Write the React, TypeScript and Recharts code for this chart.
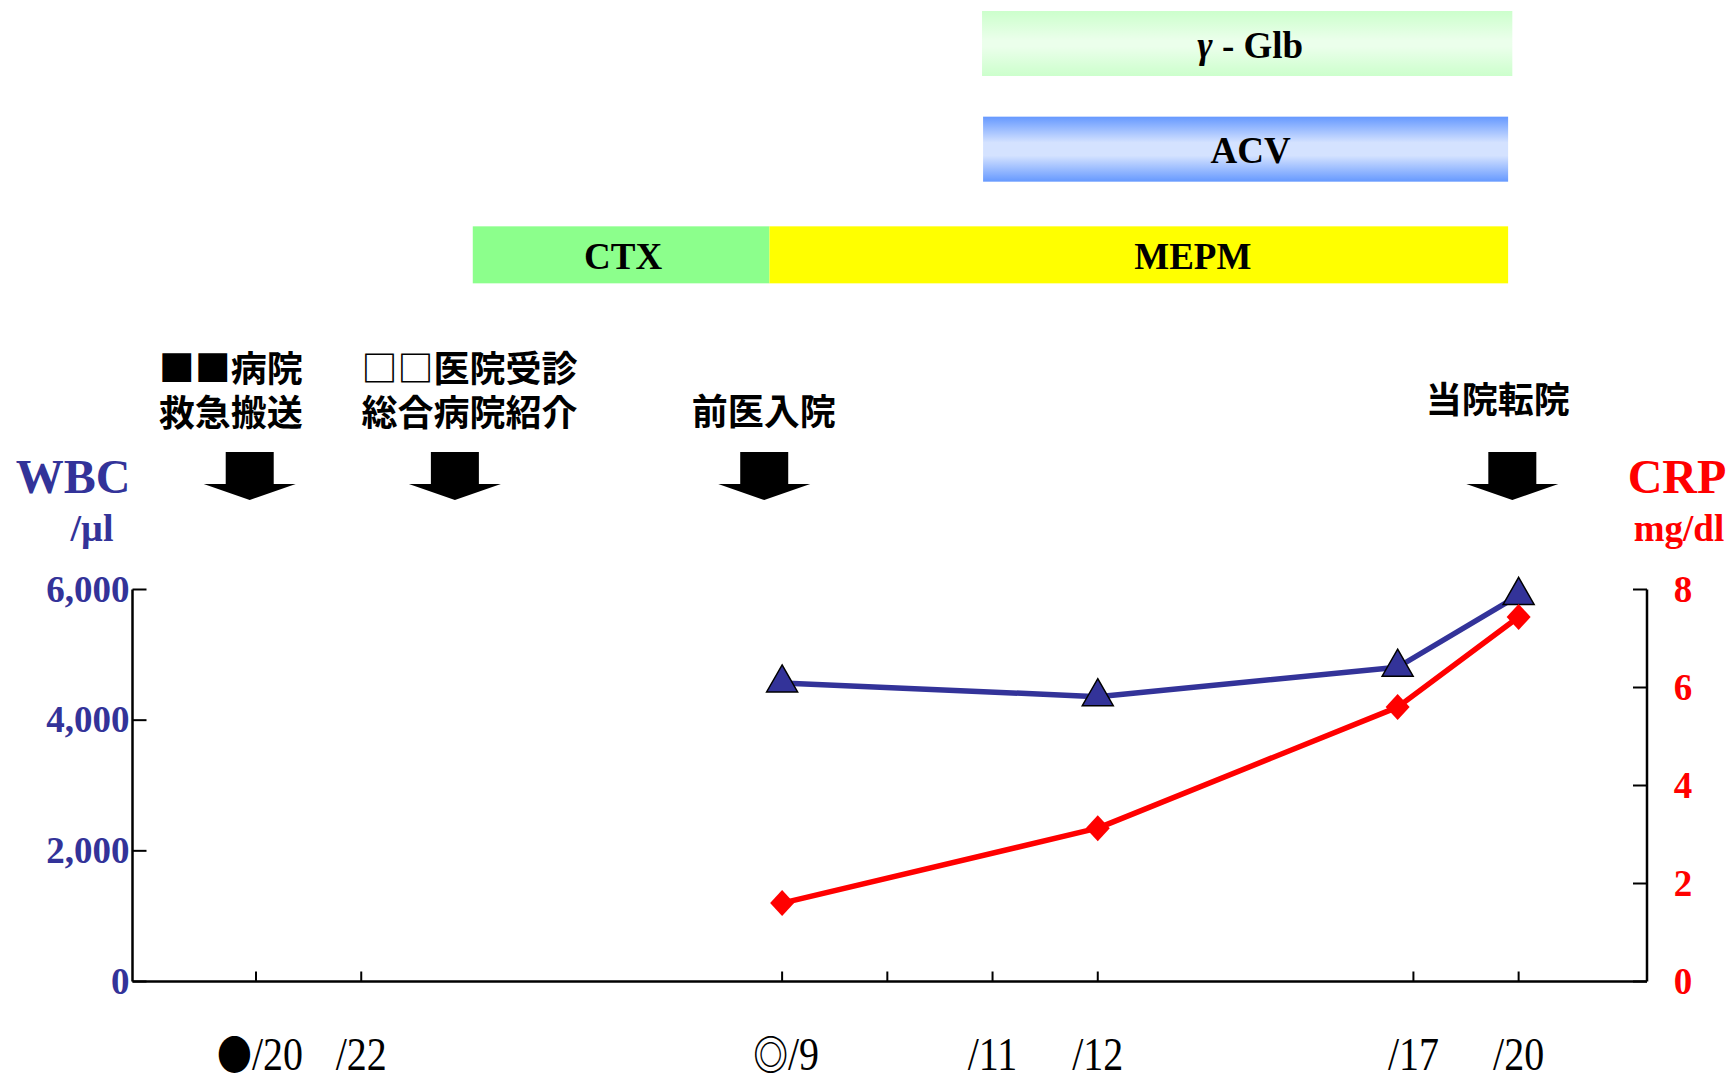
import React from 'react';
import { LineChart, Line, XAxis, YAxis, ReferenceLine, BarChart, Bar } from 'recharts';

// ---- data ----
const dateTicks = [0, 1, 5, 6, 7, 8, 11, 12];
const dateTickLabels = ['●/20', '/22', '◎/9', '', '/11', '/12', '/17', '/20'];
const sampleX = [5, 8, 10.85, 12];
const wbcValues = [4570, 4360, 4810, 5910];
const crpValues = [1.6, 3.13, 5.6, 7.44];
const wbcTicks = [0, 2000, 4000, 6000];
const crpTicks = [0, 2, 4, 6, 8];
const xDomain: [number, number] = [-1.174, 13.22];

const treatmentNames = ['γ - Glb', 'ACV', 'CTX', 'MEPM'];
const treatmentStart = [6.9, 6.91, 2.06, 4.88];
const treatmentEnd = [11.94, 11.9, 4.88, 11.9];
const treatmentRow = [0, 1, 2, 2];

const eventX = [-0.06, 1.89, 4.83, 11.94];
const eventLines = [['■■病院', '救急搬送'], ['□□医院受診', '総合病院紹介'], ['前医入院'], ['当院転院']];

// ---- styles ----
const BLUE = '#333399';
const RED = '#ff0000';
const SERIF = "'Liberation Serif', 'Times New Roman', serif";
const CJK = "'Noto Sans CJK JP', sans-serif";
const treatmentFill = ['url(#gGlb)', 'url(#gAcv)', '#8cff8c', '#ffff00'];
const treatmentLabelDx = [3, 5, 2, 54];
const rowThickness = [65, 65, 57];
const eventTextDx = [-19, 14.5, -0.5, -14.5];
const eventTextBottom = [-163.5, -163.5, -164.8, -177];

const data = sampleX.map((x, i) => ({ x, wbc: wbcValues[i], crp: crpValues[i] }));

const rows = [0, 1, 2].map((r) => {
  const ids = treatmentRow
    .map((row, i) => (row === r ? i : -1))
    .filter((i) => i >= 0)
    .sort((a, b) => treatmentStart[a] - treatmentStart[b]);
  const first = ids[0];
  const second = ids.length > 1 ? ids[1] : -1;
  return {
    row: r,
    offset: treatmentStart[first],
    seg1: treatmentEnd[first] - treatmentStart[first],
    seg2: second >= 0 ? treatmentEnd[second] - treatmentStart[second] : 0,
    id1: first,
    id2: second,
  };
});

const EmptyShape = () => <g />;

const SegShape = (p: any) => {
  const id = p.payload[p.which];
  if (id == null || id < 0 || !(p.width > 0)) return <g />;
  const cy = p.y + p.height / 2;
  const h = rowThickness[p.payload.row];
  const tx = p.x + p.width / 2 + treatmentLabelDx[id];
  const name = treatmentNames[id];
  return (
    <g>
      <rect x={p.x} y={cy - h / 2} width={p.width} height={h} fill={treatmentFill[id]} />
      <text x={tx} y={cy + 14} textAnchor="middle" fontFamily={SERIF} fontWeight={700} fontSize={37} fill="#000">
        {name.startsWith('γ') ? (
          <>
            <tspan fontStyle="italic">γ</tspan>
            {name.slice(1)}
          </>
        ) : (
          name
        )}
      </text>
    </g>
  );
};

const DateTick = (p: any) => {
  const { x, y, payload } = p;
  const idx = dateTicks.indexOf(payload.value);
  const label = idx >= 0 ? dateTickLabels[idx] : '';
  const sym = label.startsWith('●') || label.startsWith('◎') ? label[0] : '';
  const rest = sym ? label.slice(1) : label;
  return (
    <g>
      <line x1={x} x2={x} y1={y - 10} y2={y} stroke="#000" strokeWidth={2} />
      <text
        transform={`translate(${x + (sym ? 4 : 0)},${y + 88}) scale(0.85,1)`}
        textAnchor="middle"
        fontFamily={SERIF}
        fontSize={47}
        fill="#000"
      >
        {sym ? (
          <tspan fontFamily={CJK} fontWeight={700} fontSize={41}>
            {sym}
          </tspan>
        ) : null}
        {rest}
      </text>
    </g>
  );
};

const WbcTick = (p: any) => {
  const { x, y, payload } = p;
  return (
    <g>
      <line x1={x} x2={x + 14} y1={y} y2={y} stroke="#000" strokeWidth={2} />
      <text x={x - 3} y={y + 12} textAnchor="end" fontFamily={SERIF} fontWeight={700} fontSize={37} fill={BLUE}>
        {Number(payload.value).toLocaleString('en-US')}
      </text>
    </g>
  );
};

const CrpTick = (p: any) => {
  const { x, y, payload } = p;
  return (
    <g>
      <line x1={x - 14} x2={x} y1={y} y2={y} stroke="#000" strokeWidth={2} />
      <text x={x + 36} y={y + 12} textAnchor="middle" fontFamily={SERIF} fontWeight={700} fontSize={37} fill={RED}>
        {payload.value}
      </text>
    </g>
  );
};

const WbcTitle = () => (
  <g>
    <text x={73} y={493} textAnchor="middle" fontFamily={SERIF} fontWeight={700} fontSize={48} fill={BLUE}>
      WBC
    </text>
    <text x={92} y={541} textAnchor="middle" fontFamily={SERIF} fontWeight={700} fontSize={38} fill={BLUE}>
      /µl
    </text>
  </g>
);

const CrpTitle = () => (
  <g>
    <text x={1677} y={493} textAnchor="middle" fontFamily={SERIF} fontWeight={700} fontSize={48} fill={RED}>
      CRP
    </text>
    <text x={1679} y={541} textAnchor="middle" fontFamily={SERIF} fontWeight={700} fontSize={37} fill={RED}>
      mg/dl
    </text>
  </g>
);

const EventMarker = (p: any) => {
  const { x1, y1, y2, idx } = p;
  const top = Math.min(y1, y2);
  const cx = x1;
  const shaftTop = top - 137.5;
  const headTop = top - 105.5;
  const tip = top - 89.5;
  const d = `M${cx - 24},${shaftTop} H${cx + 24} V${headTop} H${cx + 46} L${cx},${tip} L${cx - 46},${headTop} H${cx - 24} Z`;
  const lines = eventLines[idx];
  const baseY = top + eventTextBottom[idx];
  const tx = cx + eventTextDx[idx];
  const firstY = baseY - (lines.length - 1) * 44;
  return (
    <g>
      <path d={d} fill="#000" />
      <text
        x={tx}
        y={firstY}
        textAnchor="middle"
        fontFamily={CJK}
        fontWeight={700}
        fontSize={36}
        fill="#000"
      >
        {lines.map((t, j) => (
          <tspan key={j} x={tx} dy={j === 0 ? 0 : 44}>
            {t}
          </tspan>
        ))}
      </text>
    </g>
  );
};

const triangleDot = (p: any) => {
  const { cx, cy, index } = p;
  if (cx == null || cy == null) return <g key={`t${index}`} />;
  const h = 27;
  const w = 31;
  const d = `M${cx},${cy - (2 * h) / 3} L${cx + w / 2},${cy + h / 3} L${cx - w / 2},${cy + h / 3} Z`;
  return <path key={`t${index}`} d={d} fill={BLUE} stroke="#000" strokeWidth={1.5} />;
};

const diamondDot = (p: any) => {
  const { cx, cy, index } = p;
  if (cx == null || cy == null) return <g key={`d${index}`} />;
  const w = 24;
  const h = 26;
  const d = `M${cx},${cy - h / 2} L${cx + w / 2},${cy} L${cx},${cy + h / 2} L${cx - w / 2},${cy} Z`;
  return <path key={`d${index}`} d={d} fill={RED} />;
};

export default function App() {
  return (
    <div
      style={{
        position: 'absolute',
        left: 0,
        top: 0,
        width: 1731,
        height: 1080,
        overflow: 'hidden',
        background: '#fff',
      }}
    >
      <div style={{ position: 'absolute', left: 0, top: -9 }}>
        <BarChart
          width={1731}
          height={317}
          layout="vertical"
          data={rows}
          margin={{ top: 0, right: 84, bottom: 0, left: 132.5 }}
          barSize={65}
        >
          <defs>
            <linearGradient id="gGlb" x1="0" y1="0" x2="0" y2="1">
              <stop offset="0%" stopColor="#ccffcc" />
              <stop offset="45%" stopColor="#ebffeb" />
              <stop offset="55%" stopColor="#ebffeb" />
              <stop offset="100%" stopColor="#ccffcc" />
            </linearGradient>
            <linearGradient id="gAcv" x1="0" y1="0" x2="0" y2="1">
              <stop offset="0%" stopColor="#6699ff" />
              <stop offset="40%" stopColor="#d4e2ff" />
              <stop offset="60%" stopColor="#d4e2ff" />
              <stop offset="100%" stopColor="#6699ff" />
            </linearGradient>
          </defs>
          <XAxis type="number" domain={xDomain} allowDataOverflow hide />
          <YAxis type="category" dataKey="row" hide />
          <Bar dataKey="offset" stackId="t" isAnimationActive={false} shape={EmptyShape} />
          <Bar dataKey="seg1" stackId="t" isAnimationActive={false} shape={(p: any) => <SegShape {...p} which="id1" />} />
          <Bar dataKey="seg2" stackId="t" isAnimationActive={false} shape={(p: any) => <SegShape {...p} which="id2" />} />
        </BarChart>
      </div>
      <div style={{ position: 'absolute', left: 0, top: 0 }}>
        <LineChart width={1731} height={1080} data={data} margin={{ top: 589.5, right: 0, bottom: 0, left: 0 }}>
          <XAxis
            dataKey="x"
            type="number"
            domain={xDomain}
            allowDataOverflow
            ticks={dateTicks}
            interval={0}
            height={98.5}
            tickSize={0}
            tickMargin={0}
            tickLine={false}
            axisLine={{ stroke: '#000', strokeWidth: 2.5 }}
            tick={(p: any) => <DateTick {...p} />}
          />
          <YAxis
            yAxisId="wbc"
            orientation="left"
            width={132.5}
            domain={[0, 6000]}
            ticks={wbcTicks}
            interval={0}
            tickSize={0}
            tickMargin={0}
            tickLine={false}
            axisLine={{ stroke: '#000', strokeWidth: 2.5 }}
            tick={(p: any) => <WbcTick {...p} />}
            label={() => <WbcTitle />}
          />
          <YAxis
            yAxisId="crp"
            orientation="right"
            width={84}
            domain={[0, 8]}
            ticks={crpTicks}
            interval={0}
            tickSize={0}
            tickMargin={0}
            tickLine={false}
            axisLine={{ stroke: '#000', strokeWidth: 2.5 }}
            tick={(p: any) => <CrpTick {...p} />}
            label={() => <CrpTitle />}
          />
          {eventX.map((ex, i) => (
            <ReferenceLine
              key={i}
              yAxisId="wbc"
              x={ex}
              ifOverflow="visible"
              shape={(p: any) => <EventMarker {...p} idx={i} />}
            />
          ))}
          <Line
            yAxisId="wbc"
            dataKey="wbc"
            stroke={BLUE}
            strokeWidth={5.5}
            strokeLinejoin="round"
            dot={triangleDot}
            activeDot={false}
            isAnimationActive={false}
          />
          <Line
            yAxisId="crp"
            dataKey="crp"
            stroke={RED}
            strokeWidth={5.5}
            strokeLinejoin="round"
            dot={diamondDot}
            activeDot={false}
            isAnimationActive={false}
          />
        </LineChart>
      </div>
    </div>
  );
}
